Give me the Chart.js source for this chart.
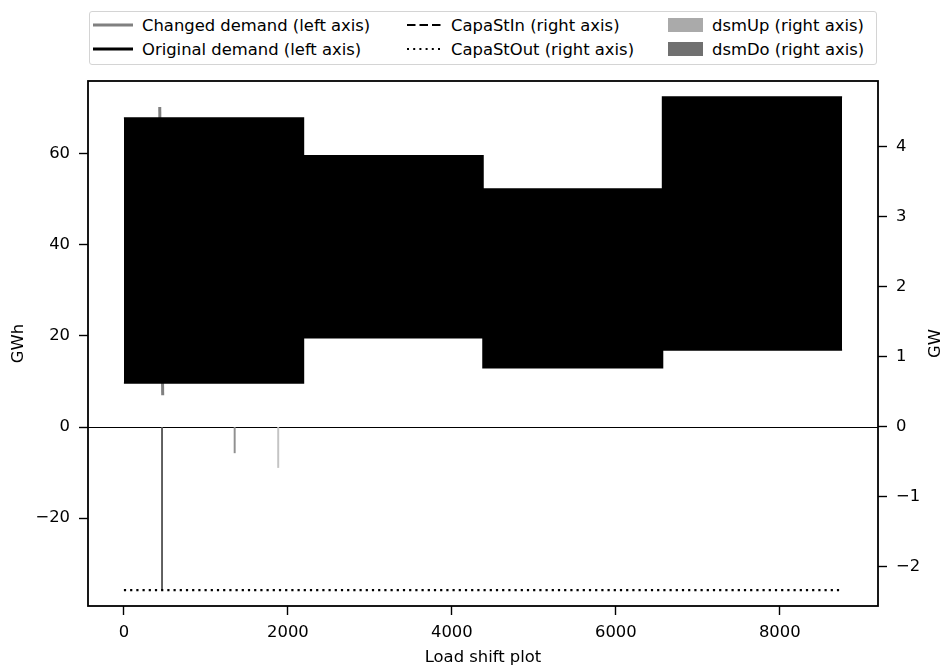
<!DOCTYPE html>
<html>
<head>
<meta charset="utf-8">
<script src="https://cdn.jsdelivr.net/npm/chart.js@4.4.1/dist/chart.umd.min.js"></script>
<style>
  body { margin: 0; background: #fff; }
  #wrap { position: relative; width: 944px; height: 668px; font-family: "DejaVu Sans", sans-serif; }
  #legend { position: absolute; left: 89px; top: 11px; width: 786px; height: 52px;
            border: 1px solid #d4d4d4; border-radius: 3px; background: #fff; }
  .item { position: absolute; height: 22px; display: flex; align-items: center;
          font-size: 16.4px; color: #000; white-space: nowrap; }
  .item svg { flex: none; }
</style>
</head>
<body>
<div id="wrap">
  <canvas id="chart" width="944" height="668"></canvas>
  <div id="legend"></div>
</div>
<script>
// season boundaries (hours) and demand envelope per season, GWh
const seasonStart = [0, 2190, 4380, 6570, 8760];
const originalMax = [67.9, 59.6, 52.3, 72.5];
const originalMin = [9.7, 19.6, 13.0, 16.9];

// changed demand where it leaves the original band
const changedHour = [437, 473];
const changedDemand = [70.3, 7.0];

// storage capacity out, GW
const capaStOutHour = [0, 8760];
const capaStOut = [-2.33, -2.33];

// demand side management, GW
const dsmDoHour = [465, 1351, 1882];
const dsmDo = [-2.33, -0.37, -0.58];

const xTicks = [0, 2000, 4000, 6000, 8000];
const gwhTicks = [-20, 0, 20, 40, 60];
const gwTicks = [-2, -1, 0, 1, 2, 3, 4];

const FONT = { family: "DejaVu Sans", size: 16.4 };

// stepped envelope: each value holds until the next season start
function stepPoints(values) {
    return seasonStart.map(function (h, i) {
        return { x: h, y: values[Math.min(i, values.length - 1)] };
    });
}
function pairs(xs, ys) {
    return xs.map(function (x, i) { return { x: x, y: ys[i] }; });
}
function minus(v) { return String(v).replace("-", "\u2212"); }

function axisTicks(list) {
    return function (scale) { scale.ticks = list.map(function (v) { return { value: v }; }); };
}

const tickGrid = { drawOnChartArea: false, drawTicks: true, offset: false, tickLength: 9, tickWidth: 1.4, tickColor: "#000" };

// frame, zero line and right axis title
const extras = {
    id: "extras",
    beforeDatasetsDraw: function (chart) {
        const a = chart.chartArea, ctx = chart.ctx;
        const y0 = Math.round(chart.scales.y.getPixelForValue(0)) + 0.5;
        ctx.save();
        ctx.strokeStyle = "#000";
        ctx.lineWidth = 1;
        ctx.beginPath();
        ctx.moveTo(a.left, y0);
        ctx.lineTo(a.right, y0);
        ctx.stroke();
        ctx.restore();
    },
    afterDraw: function (chart) {
        const a = chart.chartArea, ctx = chart.ctx;
        ctx.save();
        ctx.strokeStyle = "#000";
        ctx.lineWidth = 1.8;
        ctx.strokeRect(a.left, a.top, a.right - a.left, a.bottom - a.top);
        ctx.translate(936, (a.top + a.bottom) / 2);
        ctx.rotate(-Math.PI / 2);
        ctx.fillStyle = "#000";
        ctx.font = FONT.size + "px " + FONT.family;
        ctx.textAlign = "center";
        ctx.textBaseline = "middle";
        ctx.fillText("GW", 0, 0);
        ctx.restore();
    }
};

const datasets = [
    {
        label: "Original demand (left axis)",
        data: stepPoints(originalMax),
        stepped: "before",
        borderColor: "#000",
        borderWidth: 1.5,
        backgroundColor: "#000",
        fill: "+1",
        pointRadius: 0,
        yAxisID: "y",
        order: 0
    },
    {
        label: "_min",
        data: stepPoints(originalMin),
        stepped: "before",
        borderColor: "#000",
        borderWidth: 1.5,
        fill: false,
        pointRadius: 0,
        yAxisID: "y",
        order: 0
    },
    {
        label: "Changed demand (left axis)",
        data: pairs(changedHour, changedDemand),
        borderColor: "#808080",
        borderWidth: 3,
        fill: false,
        pointRadius: 0,
        yAxisID: "y",
        order: 1
    },
    {
        label: "CapaStIn (right axis)",
        data: [],
        borderColor: "#000",
        borderWidth: 2,
        borderDash: [8.5, 4],
        pointRadius: 0,
        yAxisID: "y2",
        order: 2
    },
    {
        label: "CapaStOut (right axis)",
        data: pairs(capaStOutHour, capaStOut),
        borderColor: "#000",
        borderWidth: 2.2,
        borderDash: [2.2, 4],
        fill: false,
        pointRadius: 0,
        yAxisID: "y2",
        order: 2
    },
    {
        type: "bar",
        label: "dsmUp (right axis)",
        data: [],
        backgroundColor: "#aaaaaa",
        yAxisID: "y2",
        order: 3
    },
    {
        type: "bar",
        label: "dsmDo (right axis)",
        data: pairs(dsmDoHour, dsmDo),
        backgroundColor: ["#5e5e5e", "#909090", "#c4c4c4"],
        barThickness: 1.3,
        grouped: false,
        yAxisID: "y2",
        order: 3
    }
];

new Chart(document.getElementById("chart").getContext("2d"), {
    type: "line",
    data: { datasets: datasets },
    plugins: [extras],
    options: {
        responsive: false,
        animation: false,
        devicePixelRatio: 1,
        layout: { padding: { top: 81, left: 0, right: 0, bottom: 0 } },
        plugins: { legend: { display: false }, tooltip: { enabled: false } },
        scales: {
            x: {
                type: "linear",
                position: "bottom",
                min: -438,
                max: 9198,
                offset: false,
                afterBuildTicks: axisTicks(xTicks),
                afterFit: function (s) { s.height = 62; },
                grid: tickGrid,
                border: { display: false },
                ticks: { color: "#000", font: FONT, padding: 8, maxRotation: 0, callback: minus },
                title: { display: true, text: "Load shift plot", color: "#000", font: FONT, padding: { top: 2, bottom: 0 } }
            },
            y: {
                type: "linear",
                position: "left",
                min: -39.3,
                max: 76,
                afterBuildTicks: axisTicks(gwhTicks),
                afterFit: function (s) { s.width = 88; },
                grid: tickGrid,
                border: { display: false },
                ticks: { color: "#000", font: FONT, padding: 9, callback: minus },
                title: { display: true, text: "GWh", color: "#000", font: FONT, padding: { top: 9, bottom: 0 } }
            },
            y2: {
                type: "linear",
                position: "right",
                min: -2.557,
                max: 4.94,
                afterBuildTicks: axisTicks(gwTicks),
                afterFit: function (s) { s.width = 66; },
                grid: tickGrid,
                border: { display: false },
                ticks: { color: "#000", font: FONT, padding: 9, callback: minus }
            }
        }
    }
});

// legend laid out in three columns like the original
const legendItems = [
    { label: "Changed demand (left axis)", kind: "line", color: "#808080", dash: "", col: 0, row: 0 },
    { label: "Original demand (left axis)", kind: "line", color: "#000", dash: "", col: 0, row: 1 },
    { label: "CapaStIn (right axis)", kind: "line", color: "#000", dash: "8.5 4", col: 1, row: 0 },
    { label: "CapaStOut (right axis)", kind: "line", color: "#000", dash: "2 4.2", col: 1, row: 1 },
    { label: "dsmUp (right axis)", kind: "patch", color: "#aaaaaa", col: 2, row: 0 },
    { label: "dsmDo (right axis)", kind: "patch", color: "#707070", col: 2, row: 1 }
];
const colLeft = [3, 317, 578];
const colSample = [40, 37, 35];
const colGap = [9, 7, 9];
const rowTop = [2, 26];
const legend = document.getElementById("legend");
legendItems.forEach(function (it) {
    const div = document.createElement("div");
    const w = colSample[it.col];
    div.className = "item";
    div.style.left = colLeft[it.col] + "px";
    div.style.top = rowTop[it.row] + "px";
    let svg;
    if (it.kind === "line") {
        const lw = it.dash ? 2 : 3;
        svg = '<svg width="' + w + '" height="20"><line x1="0" y1="10" x2="' + w + '" y2="10" stroke="' + it.color +
              '" stroke-width="' + lw + '"' + (it.dash ? ' stroke-dasharray="' + it.dash + '"' : '') + '/></svg>';
    } else {
        svg = '<svg width="' + w + '" height="20"><rect x="0" y="3" width="' + w + '" height="14" fill="' + it.color + '"/></svg>';
    }
    div.innerHTML = svg + '<span style="margin-left:' + colGap[it.col] + 'px">' + it.label + '</span>';
    legend.appendChild(div);
});
</script>
</body>
</html>
